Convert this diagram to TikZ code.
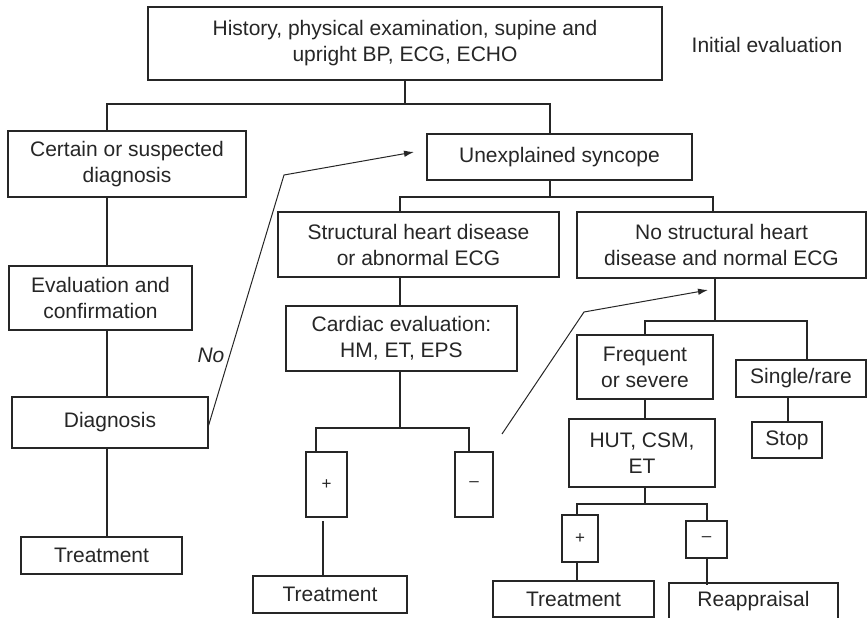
\documentclass[tikz,border=0pt]{standalone}
\usepackage{fontspec}
\setmainfont{Liberation Sans}
\usetikzlibrary{arrows.meta}
\begin{document}
\begin{tikzpicture}[x=1pt,y=-1pt,
  line width=1.1pt, draw=black!85,
  box/.style={draw, inner sep=0pt, align=center,
    font=\fontsize{21}{26}\selectfont, text=black!85},
  sign/.style={box, font=\fontsize{17}{20}\selectfont},
  link/.style={draw=black!85},
  pointer/.style={draw=black!85, line width=1pt, -{Latex[length=10pt,width=6.5pt]}}]
\useasboundingbox (0,0) rectangle (868,618);
\clip (0,0) rectangle (868,618);

% boxes
\node[box, minimum width=514, minimum height=73] (top) at (405,43.5)
  {History, physical examination, supine and\\upright BP, ECG, ECHO};
\node[font=\fontsize{21}{26}\selectfont, text=black!85] (initial) at (767,45) {Initial evaluation};

\node[box, minimum width=238, minimum height=66] (certain) at (127,164)
  {Certain or suspected\\diagnosis};
\node[box, minimum width=183, minimum height=64] (evalconf) at (100.5,298)
  {Evaluation and\\confirmation};
\node[box, minimum width=196, minimum height=51] (diag) at (110,422.5) {Diagnosis};
\node[box, minimum width=161, minimum height=37] (treatL) at (101.5,555.5) {Treatment};

\node[box, minimum width=265, minimum height=46] (unexpl) at (559.5,157) {Unexplained syncope};
\node[box, minimum width=281, minimum height=65] (struct) at (418.5,244.5)
  {Structural heart disease\\or abnormal ECG};
\node[box, minimum width=289, minimum height=66] (nostruct) at (721.5,245)
  {No structural heart\\disease and normal ECG};
\node[box, minimum width=231, minimum height=65] (cardiac) at (401.5,338.5)
  {Cardiac evaluation:\\HM, ET, EPS};
\node[sign, minimum width=41, minimum height=65] (plusA) at (326.5,484.5) {+};
\node[sign, minimum width=38, minimum height=65] (minusA) at (474,484.5) {--};
\node[box, minimum width=154, minimum height=37] (treatM) at (330,594.5) {Treatment};

\node[box, minimum width=136, minimum height=64] (freq) at (645,367) {Frequent\\or severe};
\node[box, minimum width=130, minimum height=37] (single) at (801,378.5) {Single/rare};
\node[box, minimum width=70, minimum height=36] (stop) at (787,440) {Stop};
\node[box, minimum width=146, minimum height=68] (hut) at (642,453) {HUT, CSM,\\ET};
\node[sign, minimum width=36, minimum height=47] (plusB) at (580,538.5) {+};
\node[sign, minimum width=41, minimum height=37] (minusB) at (706.5,539.5) {--};
\node[box, minimum width=161, minimum height=36] (treatR) at (573.5,599) {Treatment};
\node[box, minimum width=169, minimum height=36] (reapp) at (753.5,601) {Reappraisal};

% junction points of the tree connectors
\coordinate (a1) at (107,104);
\coordinate (a2) at (550,104);
\coordinate (b1) at (400,197);
\coordinate (b2) at (713,197);
\coordinate (c0) at (400,428);
\coordinate (c1) at (316,428);
\coordinate (c2) at (469,428);
\coordinate (d1) at (323,521);
\coordinate (e0) at (715,321);
\coordinate (e1) at (645,321);
\coordinate (e2) at (807,321);
\coordinate (f0) at (645,504);
\coordinate (f1) at (577,504);
\coordinate (f2) at (707,504);
\coordinate (g0) at (788,400);

% tree connectors
\draw[link] (top.south) -- (top.south |- a1);
\draw[link] (a1 |- certain.north) -- (a1) -- (a2) -- (a2 |- unexpl.north);
\draw[link] (a1 |- certain.south) -- (a1 |- evalconf.north);
\draw[link] (a1 |- evalconf.south) -- (a1 |- diag.north);
\draw[link] (a1 |- diag.south) -- (a1 |- treatL.north);

\draw[link] (a2 |- unexpl.south) -- (a2 |- b1);
\draw[link] (b1 |- struct.north) -- (b1) -- (b2) -- (b2 |- nostruct.north);
\draw[link] (b1 |- struct.south) -- (b1 |- cardiac.north);
\draw[link] (c0 |- cardiac.south) -- (c0);
\draw[link] (c1 |- plusA.north) -- (c1) -- (c2) -- (c2 |- minusA.north);
\draw[link] (d1) -- (d1 |- treatM.north);

\draw[link] (e0 |- nostruct.south) -- (e0);
\draw[link] (e1 |- freq.north) -- (e1) -- (e2) -- (e2 |- single.north);
\draw[link] (g0 |- single.south) -- (g0 |- stop.north);
\draw[link] (e1 |- freq.south) -- (e1 |- hut.north);
\draw[link] (f0 |- hut.south) -- (f0);
\draw[link] (f1 |- plusB.north) -- (f1) -- (f2) -- (f2 |- minusB.north);
\draw[link] (f1 |- plusB.south) -- (f1 |- treatR.north);
\draw[link] (f2 |- minusB.south) -- ([yshift=-3]f2 |- reapp.north);

% feedback arrows
\coordinate (k1) at (284,175);
\coordinate (k2) at (414,152);
\draw[pointer] ([yshift=-3]diag.east) -- (k1) -- (k2);
\node[font=\fontsize{21}{26}\selectfont\itshape, text=black!85] (no) at (211,355) {No};

\coordinate (m0) at (502,434);
\coordinate (m1) at (584,312);
\coordinate (m2) at (708,290);
\draw[pointer] (m0) -- (m1) -- (m2);
\end{tikzpicture}
\end{document}
